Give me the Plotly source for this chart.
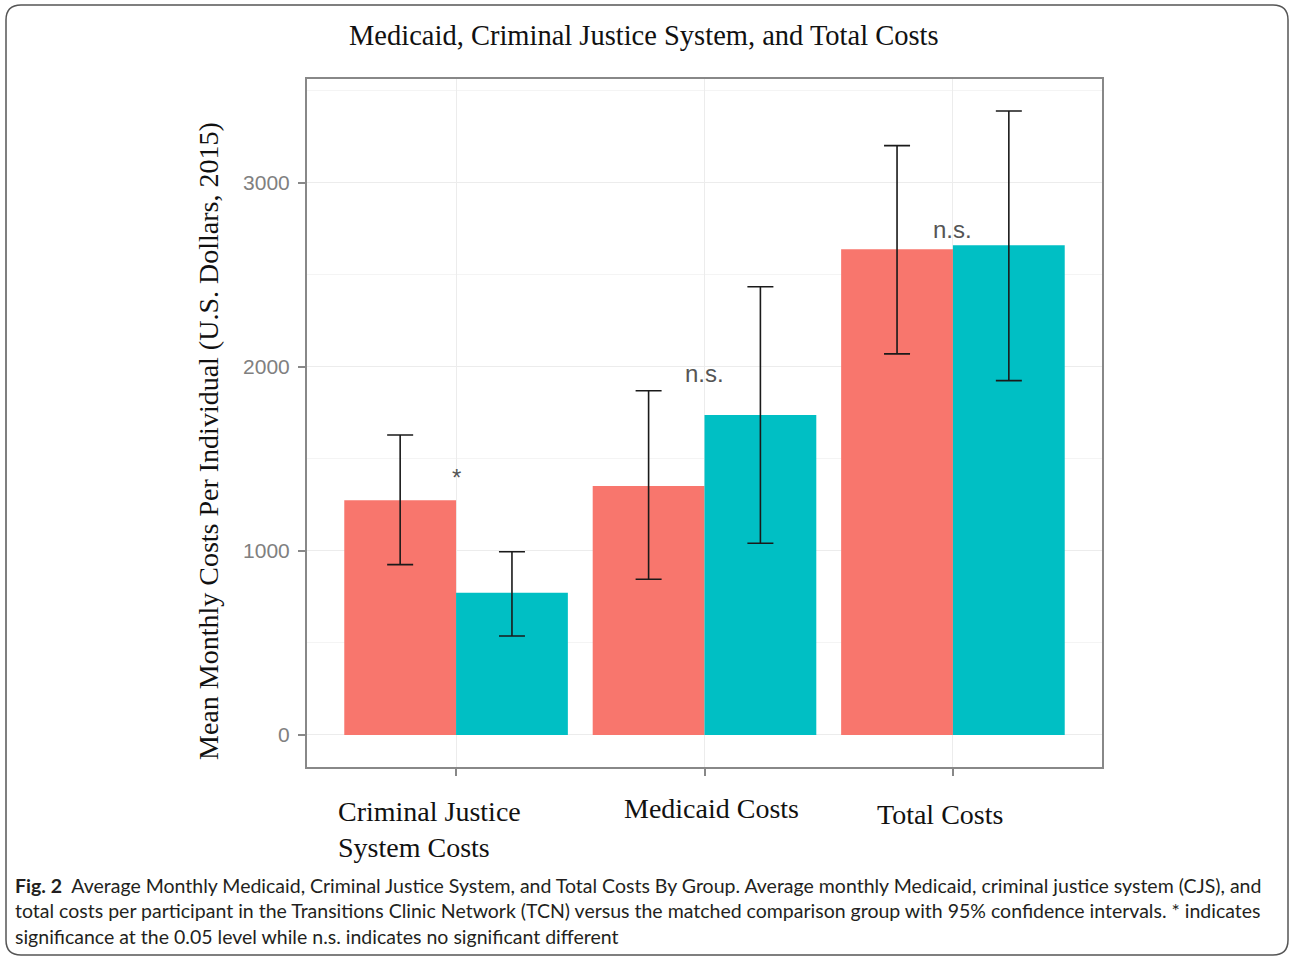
import plotly.graph_objects as go

# ---------------- data ----------------
categories = ["Criminal Justice System Costs", "Medicaid Costs", "Total Costs"]
category_labels = ["Criminal Justice<br>System Costs", "Medicaid Costs", "Total Costs"]
tcn_mean = [1275, 1353, 2640]
tcn_low = [926, 846, 2071]
tcn_high = [1630, 1871, 3203]
cmp_mean = [773, 1739, 2661]
cmp_low = [538, 1042, 1926]
cmp_high = [996, 2436, 3391]
sig_labels = ["*", "n.s.", "n.s."]
sig_y = [1400, 1967, 2745]
y_ticks = [0, 1000, 2000, 3000]

title_text = "Medicaid, Criminal Justice System, and Total Costs"
ytitle_text = "Mean Monthly Costs Per Individual (U.S. Dollars, 2015)"
caption_lines = [
    "<b>Fig. 2</b>  Average Monthly Medicaid, Criminal Justice System, and Total Costs By Group. Average monthly Medicaid, criminal justice system (CJS), and",
    "total costs per participant in the Transitions Clinic Network (TCN) versus the matched comparison group with 95% confidence intervals. * indicates",
    "significance at the 0.05 level while n.s. indicates no significant different",
]

# ---------------- layout geometry ----------------
W, H = 1291, 959
L, R, T, B = 307, 1102, 79, 767


def px(x):
    return (x - L) / (R - L)


def py(y):
    return (B - y) / (B - T)


RED = "#F8766D"
TEAL = "#00BFC4"
SERIF = "Liberation Serif, Times New Roman, serif"
SANS = "Liberation Sans, Arial, sans-serif"

fig = go.Figure()
fig.add_trace(go.Bar(
    x=categories, y=tcn_mean, name="TCN", marker=dict(color=RED, line=dict(width=0)),
    error_y=dict(type="data", symmetric=False,
                 array=[h - m for h, m in zip(tcn_high, tcn_mean)],
                 arrayminus=[m - l for l, m in zip(tcn_low, tcn_mean)],
                 color="#1a1a1a", thickness=1.6, width=13),
))
fig.add_trace(go.Bar(
    x=categories, y=cmp_mean, name="Comparison", marker=dict(color=TEAL, line=dict(width=0)),
    error_y=dict(type="data", symmetric=False,
                 array=[h - m for h, m in zip(cmp_high, cmp_mean)],
                 arrayminus=[m - l for l, m in zip(cmp_low, cmp_mean)],
                 color="#1a1a1a", thickness=1.6, width=13),
))

annotations = []
for c, s, yv in zip(categories, sig_labels, sig_y):
    annotations.append(dict(x=c, y=yv, xref="x", yref="y", text=s, showarrow=False,
                            font=dict(family=SANS, size=24, color="#555555"),
                            xanchor="center", yanchor="middle"))

# category labels (serif, below axis)
label_pos = [(336, 829, "left"), (711, 808, "center"), (940, 814, "center")]
for txt, (lx, ly, anc) in zip(category_labels, label_pos):
    annotations.append(dict(x=px(lx), y=py(ly), xref="paper", yref="paper", text=txt,
                            showarrow=False, xanchor=anc, yanchor="middle", align="left",
                            font=dict(family=SERIF, size=28, color="#111111")))

# title
annotations.append(dict(x=px(644), y=py(35), xref="paper", yref="paper", text=title_text,
                        showarrow=False, xanchor="center", yanchor="middle",
                        font=dict(family=SERIF, size=28.5, color="#111111")))
# y title
annotations.append(dict(x=px(208), y=py(441), xref="paper", yref="paper", text=ytitle_text,
                        showarrow=False, xanchor="center", yanchor="middle", textangle=-90,
                        font=dict(family=SERIF, size=28, color="#111111")))
# caption
for i, line in enumerate(caption_lines):
    annotations.append(dict(x=px(13), y=py(885 + 25.5 * i), xref="paper", yref="paper",
                            text=line, showarrow=False, xanchor="left", yanchor="middle",
                            font=dict(family="Lato, Open Sans, sans-serif", size=19.5, color="#231F20")))

# rounded outer border
x0, x1, y0, y1, r = 6, 1288, 5, 955, 15
path = (f"M {px(x0 + r)} {py(y0)} L {px(x1 - r)} {py(y0)} Q {px(x1)} {py(y0)} {px(x1)} {py(y0 + r)} "
        f"L {px(x1)} {py(y1 - r)} Q {px(x1)} {py(y1)} {px(x1 - r)} {py(y1)} "
        f"L {px(x0 + r)} {py(y1)} Q {px(x0)} {py(y1)} {px(x0)} {py(y1 - r)} "
        f"L {px(x0)} {py(y0 + r)} Q {px(x0)} {py(y0)} {px(x0 + r)} {py(y0)} Z")

fig.update_layout(
    width=W, height=H,
    margin=dict(l=L, r=W - R, t=T, b=H - B, pad=0),
    paper_bgcolor="white", plot_bgcolor="white",
    showlegend=False,
    barmode="group", bargap=0.1, bargroupgap=0,
    annotations=annotations,
    shapes=[dict(type="path", path=path, xref="paper", yref="paper",
                 line=dict(color="#555555", width=1.5), fillcolor="rgba(0,0,0,0)", layer="above")],
    xaxis=dict(type="category", range=[-0.6, 2.6], showticklabels=False,
               ticks="outside", ticklen=7, tickcolor="#888888", tickwidth=1.5,
               showgrid=True, gridcolor="#ECECEC", gridwidth=1,
               showline=True, linecolor="#888888", linewidth=2, mirror=True, zeroline=False),
    yaxis=dict(range=[-174, 3565], tickvals=y_ticks, ticks="outside", ticklen=7,
               tickcolor="#888888", tickwidth=1.5,
               tickfont=dict(family=SANS, size=21, color="#808080"), ticklabelstandoff=4,
               showgrid=True, gridcolor="#ECECEC", gridwidth=1,
               minor=dict(dtick=500, tick0=0, showgrid=True, gridcolor="#F4F4F4", gridwidth=1),
               showline=True, linecolor="#888888", linewidth=2, mirror=True, zeroline=False),
)

fig.write_html("out.html")
